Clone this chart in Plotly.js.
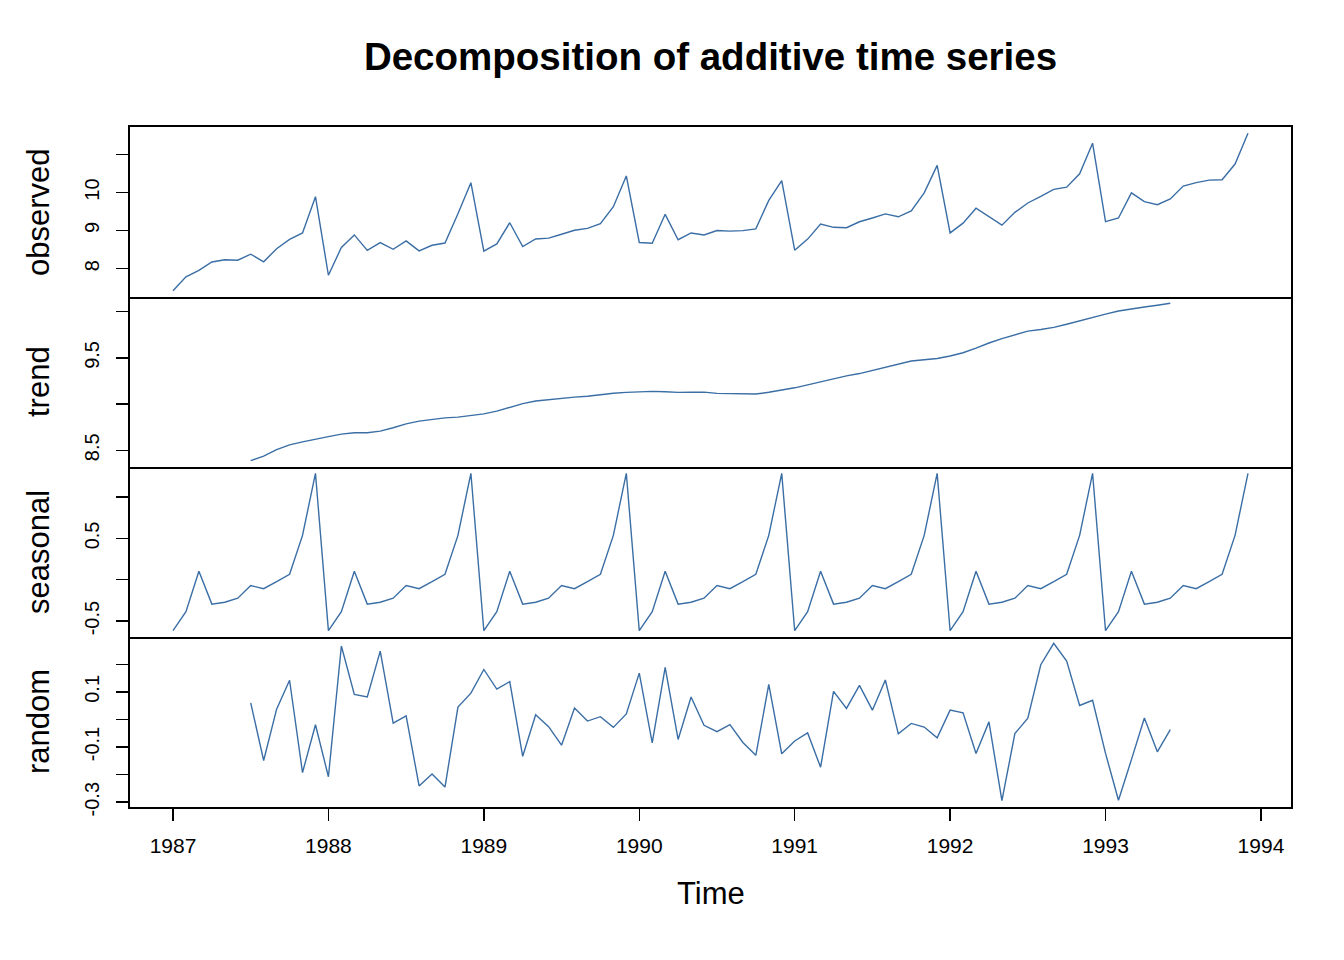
<!DOCTYPE html>
<html>
<head>
<meta charset="utf-8">
<script src="https://cdn.plot.ly/plotly-3.0.1.min.js"></script>
<style>html,body{margin:0;padding:0;background:#fff;}#chart{width:1344px;height:960px;}</style>
</head>
<body>
<div id="chart"></div>
<script>
// Monthly series, Jan 1987 - Dec 1993 (frequency 12)
const startYear = 1987;
const frequency = 12;

const observed = [
  7.4175, 7.7822, 7.9518, 8.1739, 8.2303, 8.2201, 8.3778, 8.1793, 8.5215, 8.7677, 8.9360, 9.8912,
  7.8240, 8.5561, 8.8853, 8.4776, 8.6829, 8.5074, 8.7289, 8.4664, 8.6119, 8.6716, 9.4415, 10.2591,
  8.4589, 8.6487, 9.2061, 8.5764, 8.7784, 8.7995, 8.9024, 9.0090, 9.0564, 9.1789, 9.6259, 10.4359,
  8.6863, 8.6681, 9.4272, 8.7593, 8.9371, 8.8853, 9.0022, 8.9846, 8.9988, 9.0451, 9.7934, 10.3128,
  8.4819, 8.7750, 9.1735, 9.0849, 9.0736, 9.2311, 9.3305, 9.4377, 9.3620, 9.5183, 9.9907, 10.7158,
  8.9379, 9.1952, 9.5859, 9.3577, 9.1413, 9.4790, 9.7251, 9.8979, 10.0830, 10.1422, 10.4920, 11.2988,
  9.2344, 9.3296, 9.9909, 9.7618, 9.6802, 9.8310, 10.1718, 10.2607, 10.3257, 10.3360, 10.7501, 11.5585
];

const trend = [
  null, null, null, null, null, null, 8.3877, 8.4369, 8.5080, 8.5596, 8.5911, 8.6219,
  8.6485, 8.6751, 8.6909, 8.6906, 8.7077, 8.7441, 8.7858, 8.8162, 8.8334, 8.8509, 8.8590, 8.8751,
  8.8945, 8.9244, 8.9655, 9.0051, 9.0340, 9.0490, 9.0659, 9.0761, 9.0862, 9.1030, 9.1172, 9.1274,
  9.1351, 9.1383, 9.1349, 9.1269, 9.1283, 9.1301, 9.1165, 9.1124, 9.1063, 9.1093, 9.1286, 9.1487,
  9.1768, 9.2093, 9.2433, 9.2782, 9.3061, 9.3311, 9.3669, 9.4034, 9.4381, 9.4667, 9.4809, 9.4940,
  9.5208, 9.5564, 9.6056, 9.6616, 9.7085, 9.7537, 9.7904, 9.8083, 9.8308, 9.8645, 9.9038, 9.9409,
  9.9742, 10.0079, 10.0331, 10.0513, 10.0702, 10.0917, null, null, null, null, null, null
];

const seasonal = [
  -0.6167, -0.3854, 0.1036, -0.2950, -0.2725, -0.2234, -0.0700, -0.1087, -0.0239, 0.0660, 0.5375, 1.2886,
  -0.6167, -0.3854, 0.1036, -0.2950, -0.2725, -0.2234, -0.0700, -0.1087, -0.0239, 0.0660, 0.5375, 1.2886,
  -0.6167, -0.3854, 0.1036, -0.2950, -0.2725, -0.2234, -0.0700, -0.1087, -0.0239, 0.0660, 0.5375, 1.2886,
  -0.6167, -0.3854, 0.1036, -0.2950, -0.2725, -0.2234, -0.0700, -0.1087, -0.0239, 0.0660, 0.5375, 1.2886,
  -0.6167, -0.3854, 0.1036, -0.2950, -0.2725, -0.2234, -0.0700, -0.1087, -0.0239, 0.0660, 0.5375, 1.2886,
  -0.6167, -0.3854, 0.1036, -0.2950, -0.2725, -0.2234, -0.0700, -0.1087, -0.0239, 0.0660, 0.5375, 1.2886,
  -0.6167, -0.3854, 0.1036, -0.2950, -0.2725, -0.2234, -0.0700, -0.1087, -0.0239, 0.0660, 0.5375, 1.2886
];

const random = [
  null, null, null, null, null, null, 0.0601, -0.1489, 0.0374, 0.1421, -0.1926, -0.0193,
  -0.2078, 0.2664, 0.0908, 0.0820, 0.2477, -0.0133, 0.0131, -0.2411, -0.1976, -0.2453, 0.0450, 0.0954,
  0.1811, 0.1097, 0.1370, -0.1337, 0.0169, -0.0261, -0.0935, 0.0416, -0.0059, 0.0099, -0.0288, 0.0199,
  0.1679, -0.0848, 0.1887, -0.0726, 0.0813, -0.0214, -0.0443, -0.0191, -0.0836, -0.1302, 0.1273, -0.1245,
  -0.0782, -0.0489, -0.1734, 0.1017, 0.0400, 0.1234, 0.0336, 0.1430, -0.0522, -0.0144, -0.0277, -0.0668,
  0.0338, 0.0242, -0.1233, -0.0089, -0.2947, -0.0513, 0.0047, 0.1983, 0.2761, 0.2117, 0.0507, 0.0693,
  -0.1231, -0.2929, -0.1458, 0.0055, -0.1175, -0.0373, null, null, null, null, null, null
];

const panelNames = ['observed', 'trend', 'seasonal', 'random'];
const xTickVals = [1987, 1988, 1989, 1990, 1991, 1992, 1993, 1994];
const xTickText = ['1987', '1988', '1989', '1990', '1991', '1992', '1993', '1994'];
const yTickVals = [
  [8, 9, 10, 11],
  [8.5, 9.0, 9.5, 10.0],
  [-0.5, 0.0, 0.5, 1.0],
  [-0.3, -0.2, -0.1, 0.0, 0.1, 0.2]
];
const yTickText = [
  ['8', '9', '10', ''],
  ['8.5', '', '9.5', ''],
  ['-0.5', '', '0.5', ''],
  ['-0.3', '', '-0.1', '', '0.1', '']
];

const time = observed.map((_, i) => startYear + i / frequency);
const series = [observed, trend, seasonal, random];

const lineColor = '#3a6ea5';
const fontFam = 'Liberation Sans, Arial, Helvetica, sans-serif';

function padRange(vals) {
  const v = vals.filter(d => d !== null);
  const lo = Math.min(...v), hi = Math.max(...v);
  const pad = (hi - lo) * 0.04;
  return [lo - pad, hi + pad];
}
const tLo = time[0], tHi = time[time.length - 1];
const xRange = [tLo - (tHi - tLo) * 0.04, tHi + (tHi - tLo) * 0.04];

const traces = series.map((s, k) => ({
  x: time, y: s, type: 'scatter', mode: 'lines',
  xaxis: k === 0 ? 'x' : 'x' + (k + 1),
  yaxis: k === 0 ? 'y' : 'y' + (k + 1),
  line: {color: lineColor, width: 1.4},
  connectgaps: false, showlegend: false, hoverinfo: 'x+y'
}));

const layout = {
  width: 1344, height: 960,
  margin: {l: 130, r: 53, t: 127, b: 153},
  paper_bgcolor: '#ffffff', plot_bgcolor: '#ffffff',
  font: {family: fontFam, color: '#000000'},
  showlegend: false,
  title: {
    text: 'Decomposition of additive time series',
    font: {family: fontFam, size: 38.5, weight: 'bold', color: '#000000'},
    xref: 'paper', x: 0.5, xanchor: 'center',
    yref: 'container', y: 1 - 57 / 960, yanchor: 'middle'
  },
  annotations: [],
};

const lw = 1.9;
for (let k = 0; k < 4; k++) {
  const xName = k === 0 ? 'xaxis' : 'xaxis' + (k + 1);
  const yName = k === 0 ? 'yaxis' : 'yaxis' + (k + 1);
  const yId = k === 0 ? 'y' : 'y' + (k + 1);
  const bottom = k === 3;
  const top = 1 - k * 0.25, bot = 1 - (k + 1) * 0.25;
  layout[xName] = {
    anchor: yId, domain: [0, 1], range: xRange, side: 'bottom',
    showline: true, mirror: k === 0, linecolor: '#000000', linewidth: lw,
    showgrid: false, zeroline: false,
    ticks: bottom ? 'outside' : '', ticklen: 12, tickwidth: 1.4, tickcolor: '#000000',
    tickvals: xTickVals, ticktext: xTickText,
    showticklabels: bottom,
    tickfont: {family: fontFam, size: 21, color: '#000000'},
    ticklabelstandoff: 7
  };
  if (k > 0) layout[xName].matches = 'x';
  layout[yName] = {
    anchor: k === 0 ? 'x' : 'x' + (k + 1),
    domain: [bot, top], range: padRange(series[k]),
    showline: true, mirror: true, linecolor: '#000000', linewidth: lw,
    showgrid: false, zeroline: false,
    ticks: 'outside', ticklen: 12, tickwidth: 1.4, tickcolor: '#000000',
    tickvals: yTickVals[k], ticktext: yTickText[k],
    tickangle: -90,
    tickfont: {family: fontFam, size: 20, color: '#000000'},
    ticklabelstandoff: 9
  };
  layout.annotations.push({
    text: panelNames[k], textangle: -90, showarrow: false,
    xref: 'paper', yref: 'paper',
    x: (38 - 130) / 1161, xanchor: 'center',
    y: (top + bot) / 2, yanchor: 'middle',
    font: {family: fontFam, size: 31, color: '#000000'}
  });
}
layout.annotations.push({
  text: 'Time', showarrow: false,
  xref: 'paper', yref: 'paper', x: 0.5, xanchor: 'center',
  y: (807 - 893) / 680, yanchor: 'middle',
  font: {family: fontFam, size: 31, color: '#000000'}
});

Plotly.newPlot('chart', traces, layout, {displayModeBar: false, staticPlot: true});
</script>
</body>
</html>
